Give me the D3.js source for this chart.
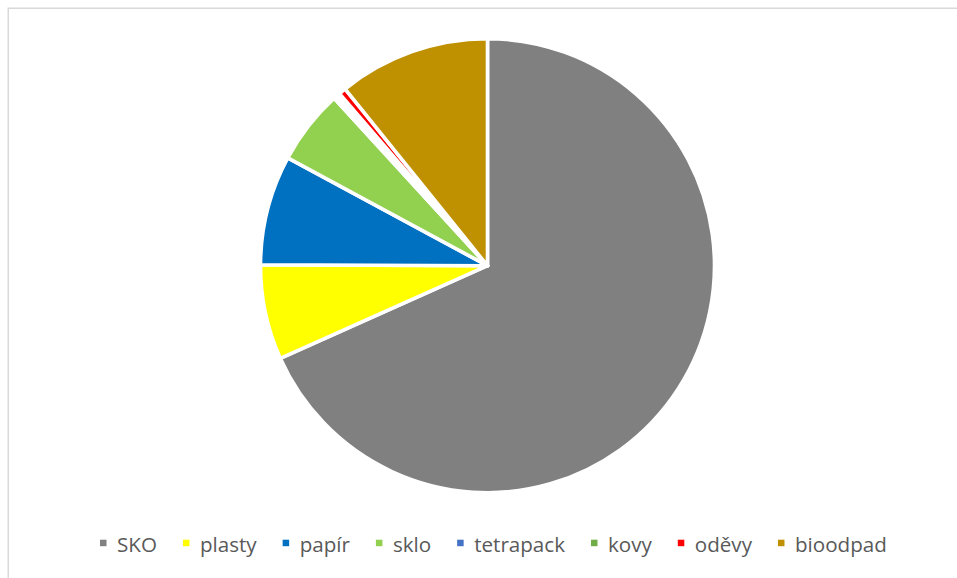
<!DOCTYPE html>
<html>
<head>
<meta charset="utf-8">
<script src="https://cdn.jsdelivr.net/npm/d3@7"></script>
<style>
  html, body { margin: 0; padding: 0; background: #fff; }
  svg { display: block; }
</style>
</head>
<body>
<svg id="chart" width="957" height="578"></svg>
<script>
// Data (percent shares)
const categories = ["SKO", "plasty", "papír", "sklo", "tetrapack", "kovy", "oděvy", "bioodpad"];
const values = [68.31, 6.76, 7.81, 5.32, 0.25, 0.25, 0.5, 10.8];
const colors = ["#808080", "#FFFF00", "#0070C0", "#92D050", "#4472C4", "#70AD47", "#FF0000", "#BF9000"];

const W = 957, H = 578;
const svg = d3.select("#chart");

// chart area border
svg.append("rect")
  .attr("x", 8.25).attr("y", 8.25)
  .attr("width", W + 10).attr("height", H + 10)
  .attr("fill", "#fff")
  .attr("stroke", "#d9d9d9")
  .attr("stroke-width", 1.5);

const cx = 487.5, cy = 265.7, r = 227;

const color = d3.scaleOrdinal().domain(categories).range(colors);
const pie = d3.pie().sort(null).value(d => d.v);
const arc = d3.arc().innerRadius(0).outerRadius(r);

const data = categories.map((c, i) => ({ c, v: values[i] }));

const g = svg.append("g").attr("transform", `translate(${cx},${cy})`);
g.selectAll("path")
  .data(pie(data))
  .join("path")
  .attr("d", arc)
  .attr("fill", d => color(d.data.c))
  .attr("stroke", "#fff")
  .attr("stroke-width", 3.6)
  .attr("stroke-linejoin", "round");

// legend
const legend = svg.append("g");
const fontSize = 20.6;
const markerSize = 6.5;
const markerGap = 10.5;
const itemGap = 26;
const items = legend.selectAll("g.item")
  .data(categories)
  .join("g").attr("class", "item");

items.append("rect")
  .attr("width", markerSize).attr("height", markerSize)
  .attr("y", -12.3)
  .attr("fill", d => color(d));

items.append("text")
  .attr("x", markerSize + markerGap)
  .attr("y", 0)
  .attr("font-family", "'Open Sans', sans-serif")
  .attr("font-size", fontSize)
  .attr("fill", "#595959")
  .text(d => d);

const widths = [];
items.each(function () {
  const t = d3.select(this).select("text").node().getComputedTextLength();
  widths.push(markerSize + markerGap + t);
});
const total = d3.sum(widths) + itemGap * (widths.length - 1);
const legendCenter = 493.4;
let start = legendCenter - total / 2;
items.attr("transform", (d, i) => {
  const x = start;
  start += widths[i] + itemGap;
  return `translate(${x},552)`;
});
</script>
</body>
</html>
